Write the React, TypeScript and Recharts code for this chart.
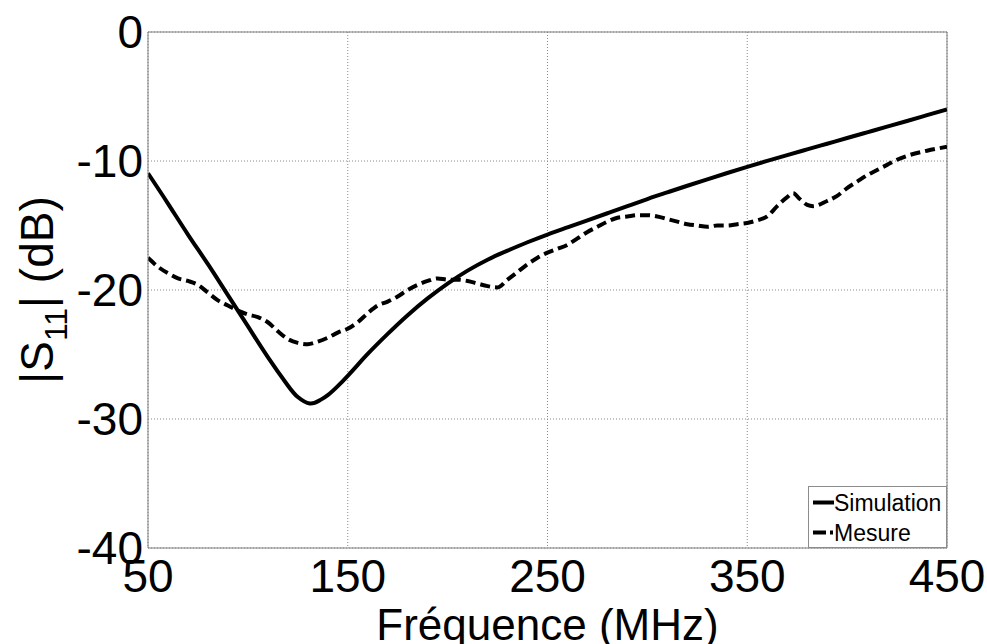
import {
  LineChart,
  Line,
  XAxis,
  YAxis,
  CartesianGrid,
  ReferenceLine,
  Legend,
} from 'recharts';

// Simulated |S11| (dB) vs frequency (MHz)
const simFreq = [50, 60, 70, 80, 90, 100, 110, 120, 125, 131, 136, 140, 145, 150, 155, 160, 170, 180, 190, 200, 210, 220, 230, 240, 250, 260, 270, 280, 290, 300, 310, 320, 330, 340, 350, 360, 370, 380, 390, 400, 410, 420, 430, 440, 450];
const simDb = [-10.95, -13.3, -15.7, -18.0, -20.4, -22.8, -25.2, -27.4, -28.3, -28.8, -28.55, -28.15, -27.45, -26.65, -25.8, -24.95, -23.4, -21.95, -20.65, -19.5, -18.5, -17.65, -16.95, -16.3, -15.7, -15.15, -14.6, -14.05, -13.5, -12.95, -12.43, -11.92, -11.42, -10.93, -10.45, -9.99, -9.54, -9.1, -8.66, -8.22, -7.78, -7.34, -6.9, -6.45, -6.0];

// Measured |S11| (dB)
const mesFreq = [50, 55, 60, 65, 70, 75, 80, 85, 90, 95, 100, 105, 110, 115, 120, 125, 130, 135, 140, 145, 150, 155, 160, 165, 170, 175, 180, 185, 190, 195, 200, 205, 210, 215, 220, 225, 230, 235, 240, 245, 250, 255, 260, 265, 270, 275, 280, 285, 290, 295, 300, 305, 310, 315, 320, 325, 330, 335, 340, 345, 350, 355, 360, 365, 370, 373, 376, 380, 383, 390, 395, 400, 405, 410, 415, 420, 425, 430, 440, 450];
const mesDb = [-17.5, -18.2, -18.7, -19.1, -19.3, -19.6, -20.2, -20.8, -21.2, -21.6, -21.9, -22.1, -22.5, -23.2, -23.8, -24.1, -24.2, -24.0, -23.7, -23.3, -23.0, -22.5, -21.8, -21.2, -20.9, -20.5, -20.0, -19.6, -19.3, -19.1, -19.2, -19.2, -19.3, -19.5, -19.7, -19.8, -19.2, -18.6, -18.0, -17.5, -17.1, -16.8, -16.5, -16.0, -15.5, -15.1, -14.7, -14.4, -14.3, -14.2, -14.2, -14.3, -14.5, -14.7, -14.9, -15.0, -15.1, -15.0, -15.0, -14.9, -14.8, -14.6, -14.3, -13.5, -12.8, -12.5, -12.9, -13.4, -13.5, -13.1, -12.7, -12.1, -11.6, -11.1, -10.7, -10.3, -9.9, -9.6, -9.2, -8.9];

const xTicks = [50, 150, 250, 350, 450];
const yTicks = [0, -10, -20, -30, -40];

const FONT = '"Liberation Sans", Arial, sans-serif';
const AXIS_GRAY = '#7f7f7f';

const simData = simFreq.map((f, i) => ({ f, db: simDb[i] }));
const mesData = mesFreq.map((f, i) => ({ f, db: mesDb[i] }));

const YLabel = ({ viewBox }: any) => {
  const cx = viewBox.x + 53;
  const cy = viewBox.y + viewBox.height / 2;
  return (
    <text
      transform={`translate(${cx},${cy}) rotate(-90)`}
      textAnchor="middle"
      fontSize={46}
      fontFamily={FONT}
      fill="#000"
    >
      |S<tspan fontSize={32} dy={14}>11</tspan>
      <tspan dy={-14}>| (dB)</tspan>
    </text>
  );
};

const XLabel = ({ viewBox }: any) => (
  <text
    x={viewBox.x + viewBox.width / 2}
    y={viewBox.y + 92}
    textAnchor="middle"
    fontSize={44}
    fontFamily={FONT}
    fill="#000"
  >
    Fréquence (MHz)
  </text>
);

const LegendBox = () => (
  <div
    style={{
      width: 137,
      height: 60,
      border: '1px solid #8c8c8c',
      background: '#fff',
      fontFamily: FONT,
      fontSize: 23,
      color: '#000',
      position: 'relative',
    }}
  >
    <svg width={24} height={60} style={{ position: 'absolute', left: 2, top: 0 }}>
      <line x1={2} x2={23} y1={15.5} y2={15.5} stroke="#000" strokeWidth={4} />
      <line x1={2} x2={23} y1={45.5} y2={45.5} stroke="#000" strokeWidth={4} strokeDasharray="13 4 3 10" />
    </svg>
    <div style={{ position: 'absolute', left: 25, top: 1, lineHeight: '30px' }}>
      <div>Simulation</div>
      <div>Mesure</div>
    </div>
  </div>
);

export default function App() {
  return (
    <div style={{ position: 'absolute', left: 0, top: 0, background: '#fff' }}>
      <LineChart width={987} height={644} margin={{ top: 32, right: 40, left: 0, bottom: 0 }}>
        <CartesianGrid stroke="#8a8a8a" strokeDasharray="1 2" />
        <XAxis
          type="number"
          dataKey="f"
          domain={[50, 450]}
          ticks={xTicks}
          allowDataOverflow
          height={96}
          stroke={AXIS_GRAY}
          tickLine={false}
          tickSize={3}
          tickMargin={8}
          tick={{ fontSize: 46, fill: '#000', fontFamily: FONT }}
          label={<XLabel />}
        />
        <YAxis
          type="number"
          domain={[-40, 0]}
          ticks={yTicks}
          allowDataOverflow
          width={148}
          stroke={AXIS_GRAY}
          tickLine={false}
          tickSize={3}
          tickMargin={2}
          tick={{ fontSize: 46, fill: '#000', fontFamily: FONT }}
          label={<YLabel />}
        />
        <ReferenceLine y={0} stroke={AXIS_GRAY} strokeWidth={1} />
        <ReferenceLine x={450} stroke={AXIS_GRAY} strokeWidth={1} />
        <Line
          data={simData}
          dataKey="db"
          name="Simulation"
          type="natural"
          stroke="#000"
          strokeWidth={4}
          dot={false}
          isAnimationActive={false}
        />
        <Line
          data={mesData}
          dataKey="db"
          name="Mesure"
          type="monotone"
          stroke="#000"
          strokeWidth={4}
          strokeDasharray="10 5"
          dot={false}
          isAnimationActive={false}
        />
        <Legend
          layout="vertical"
          align="center"
          verticalAlign="middle"
          wrapperStyle={{ top: 486, left: 808, width: 139, height: 62 }}
          content={<LegendBox />}
        />
      </LineChart>
    </div>
  );
}
